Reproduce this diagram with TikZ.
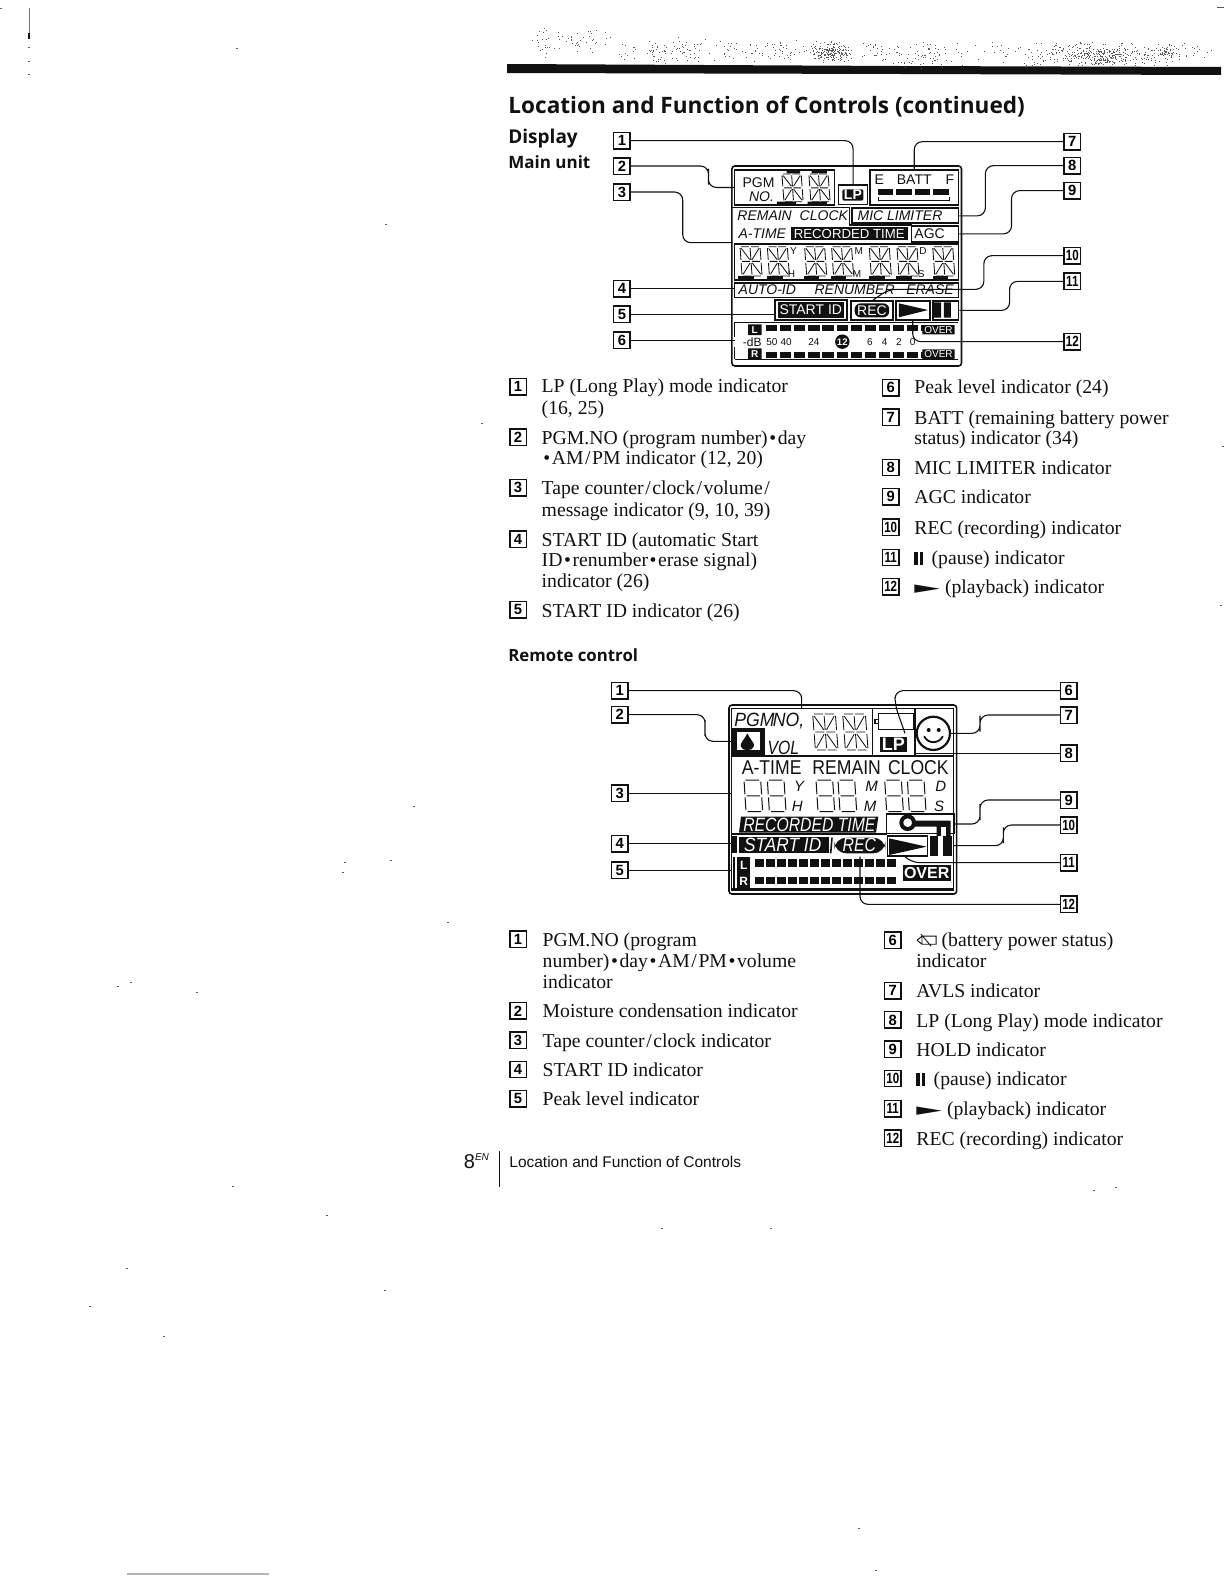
\documentclass[tikz,border=0pt]{standalone}
\usepackage{fontspec}
\usepackage{graphicx}
\setmainfont{Liberation Serif}
\setsansfont{Liberation Sans}
\newfontfamily\headfont{Open Sans}
\newfontfamily\symfont{DejaVu Sans}
\definecolor{ink}{HTML}{111111}
\newcounter{lnno}
\newcommand{\tl}[3]{\stepcounter{lnno}\node[itemtxt] (ln\thelnno) at (#1,{#2+1}) {#3};}
\newcommand{\nb}[4]{\node[numbox] (#1) at (#2,#3) {#4};}
\newcommand{\dd}[1]{\scalebox{.78}[1]{#1}}
\newcommand{\nar}[1]{\scalebox{.82}[1]{#1}}
\newcommand{\bu}{\kern.8pt•\kern.8pt}
\newcommand{\sla}{\kern.8pt/\kern.8pt}
\newcommand{\pausesym}{\rule{1.6pt}{6.4pt}\kern1pt\rule{1.6pt}{6.4pt}\kern2pt}
\newcommand{\playsym}{\rule{0pt}{6pt}\scalebox{1.7}[.85]{\symfont ►}}
\newcommand{\starseg}[4]{\begin{scope}[shift={(#1,#2)},xscale=#3,yscale=#4,xslant=-0.12]
\draw[seg] (.06,0)--(.46,0) (.54,0)--(.94,0) (0,.05)--(0,.45) (1,.05)--(1,.45) (.5,.05)--(.5,.45)
(.06,.06)--(.44,.44) (.94,.06)--(.56,.44) (.06,.5)--(.46,.5) (.54,.5)--(.94,.5)
(0,.55)--(0,.95) (1,.55)--(1,.95) (.5,.55)--(.5,.95) (.44,.56)--(.06,.94) (.56,.56)--(.94,.94)
(.06,1)--(.46,1) (.54,1)--(.94,1);
\end{scope}}
\newcommand{\sevseg}[4]{\begin{scope}[shift={(#1,#2)},xscale=#3,yscale=#4,xslant=-0.12]
\draw[seg,line width=.5pt] (.1,0)--(.9,0) (1,.05)--(1,.45) (0,.05)--(0,.45) (.1,.5)--(.9,.5) (0,.55)--(0,.95) (1,.55)--(1,.95) (.1,1)--(.9,1);
\end{scope}}
\tikzset{
 numbox/.style={draw=ink,line width=.7pt,minimum width=8.2pt,minimum height=8.2pt,inner sep=0pt,fill=white,text=black,font=\fontsize{7.4}{8}\selectfont\sffamily\bfseries},
 itemtxt/.style={anchor=base west,inner sep=0pt,text=ink,font=\fontsize{9.85}{10}\selectfont},
 leader/.style={draw=ink,line width=.55pt,rounded corners=4pt},
 seg/.style={draw=ink,line width=.42pt},
 frame/.style={draw=ink,line width=.6pt},
 lcdit/.style={inner sep=0pt,text=ink,font=\fontsize{7}{8}\selectfont\sffamily\itshape},
 lcdup/.style={inner sep=0pt,text=ink,font=\fontsize{7}{8}\selectfont\sffamily},
 lcdwhite/.style={inner sep=0pt,text=white,font=\fontsize{7}{8}\selectfont\sffamily},
 lcdbig/.style={inner sep=0pt,text=ink,font=\fontsize{10}{10}\selectfont\sffamily},
 lcdbigit/.style={inner sep=0pt,text=ink,font=\fontsize{9.6}{10}\selectfont\sffamily\itshape},
 lcdbigw/.style={inner sep=0pt,text=white,font=\fontsize{9.6}{10}\selectfont\sffamily\itshape},
 tiny/.style={inner sep=0pt,text=ink,font=\fontsize{5}{6}\selectfont\sffamily},
 heading/.style={anchor=base west,inner sep=0pt,text=ink,font=\headfont\bfseries},
}
\begin{document}
\begin{tikzpicture}[x=0.5pt,y=-0.5pt]
\useasboundingbox[fill=white] (0,0) rectangle (1224,1584);
% ---- header bar and screen noise
\fill[ink] (507,64) -- (900,66) -- (1221,67) -- (1221,75) -- (900,74) -- (507,73) -- cycle;
\pgfmathsetseed{4711}
\foreach \cx/\sx/\cy/\sy/\n in {546/14/44/10/25,584/16/40/8/35,625/6/50/8/12,655/9/50/9/30,686/14/50/9/45,
 742/25/50/8/40,790/16/50/9/35,832/12/52/7/200,880/14/52/8/30,928/20/55/9/70,1000/25/52/8/25,
 1060/22/55/8/90,1100/20/54/8/240,1145/22/55/8/70,1167/7/52/7/50,1195/10/52/7/15}{
 \foreach \k in {1,...,\n}{
  \pgfmathsetmacro{\px}{\cx+\sx*(rand+rand)*1.0}
  \pgfmathsetmacro{\py}{\cy+\sy*(rand+rand)*0.8}
  \fill[black!65] (\px,\py) rectangle ++(.9,.9);
 }
}
% ---- page marks
\draw[black!55,line width=.7pt] (29.5,8) -- (29.5,33);
\draw[ink,line width=.8pt] (29,33) -- (29,39);
\fill[black!60] (0,8) rectangle ++(2,1);
\draw[black!30,line width=.6pt] (127,1574) -- (269,1574);
\fill[ink!70] (1217,7) rectangle ++(7,1);
\foreach \sx/\sy in {28/47,28/61,28/74,236/48,385/224,481/423,344/862,390/860,447/922,117/986,130/982,196/992,232/1186,
 326/1215,126/1268,384/1290,89/1306,163/1336,661/1228,770/1228,858/1528,875/1570,1093/1190,1115/1187,1222/446,1220/605,413/806,342/872}{
 \fill[ink!70] (\sx,\sy) rectangle ++(2,1.4);
}
% ---- text, in coordinates of the shrunk view
\begin{scope}[x=0.50495pt,y=-0.50495pt]
\node[heading,font=\headfont\bfseries\fontsize{11.3}{13}\selectfont] (title) at (503,112) {Location and Function of Controls (continued)};
\node[heading,font=\headfont\bfseries\fontsize{9.5}{12}\selectfont] (hdisp) at (503,142) {Display};
\node[heading,font=\headfont\bfseries\fontsize{8.5}{12}\selectfont] (hmain) at (503,167) {Main unit};
\node[heading,font=\headfont\bfseries\fontsize{8.4}{12}\selectfont] (hremo) at (503,655) {Remote control};
% main unit lists
\nb{la1}{513}{383}{1} \tl{536}{388}{LP (Long Play) mode indicator} \tl{536}{409}{(16, 25)}
\nb{la2}{513}{433}{2} \tl{536}{439}{PGM.NO (program number)\bu day} \tl{536}{459}{\bu AM\sla PM indicator (12, 20)}
\nb{la3}{513}{483}{3} \tl{536}{489}{Tape counter\sla clock\sla volume\sla} \tl{536}{510}{message indicator (9, 10, 39)}
\nb{la4}{513}{534}{4} \tl{536}{540}{START ID (automatic Start} \tl{536}{560}{ID\bu renumber\bu erase signal)} \tl{536}{581}{indicator (26)}
\nb{la5}{513}{604}{5} \tl{536}{610}{START ID indicator (26)}
\nb{lb6}{882}{384}{6} \tl{905}{389}{Peak level indicator (24)}
\nb{lb7}{882}{413}{7} \tl{905}{419}{BATT (remaining battery power} \tl{905}{439}{status) indicator (34)}
\nb{lb8}{882}{463}{8} \tl{905}{469}{MIC LIMITER indicator}
\nb{lb9}{882}{492}{9} \tl{905}{498}{AGC indicator}
\nb{lb10}{882}{522}{\dd{10}} \tl{905}{528}{REC (recording) indicator}
\nb{lb11}{882}{552}{\dd{11}} \tl{905}{558}{\pausesym\ (pause) indicator}
\nb{lb12}{882}{581}{\dd{12}} \tl{905}{587}{\playsym\ (playback) indicator}
% remote lists
\nb{ra1}{513}{930}{1} \tl{537}{936}{PGM.NO (program} \tl{537}{957}{number)\bu day\bu AM\sla PM\bu volume} \tl{537}{978}{indicator}
\nb{ra2}{513}{1001}{2} \tl{537}{1007}{Moisture condensation indicator}
\nb{ra3}{513}{1030}{3} \tl{537}{1036}{Tape counter\sla clock indicator}
\nb{ra4}{513}{1059}{4} \tl{537}{1065}{START ID indicator}
\nb{ra5}{513}{1088}{5} \tl{537}{1094}{Peak level indicator}
\nb{rb6}{884}{931}{6} \tl{932}{936}{(battery power status)} \tl{907}{957}{indicator}
\draw[ink,line width=.45pt] (913,927) rectangle (927,935) (908,931) -- (913,927) (908,931) -- (913,935) (912,925) -- (922,937);
\nb{rb7}{884}{981}{7} \tl{907}{987}{AVLS indicator}
\nb{rb8}{884}{1010}{8} \tl{907}{1016}{LP (Long Play) mode indicator}
\nb{rb9}{884}{1039}{9} \tl{907}{1045}{HOLD indicator}
\nb{rb10}{884}{1068}{\dd{10}} \tl{907}{1074}{\pausesym\ (pause) indicator}
\nb{rb11}{884}{1098}{\dd{11}} \tl{907}{1104}{\playsym\ (playback) indicator}
\nb{rb12}{884}{1127}{\dd{12}} \tl{907}{1133}{REC (recording) indicator}
% footer
\node[itemtxt,font=\fontsize{10}{12}\selectfont\sffamily] (pg) at (459,1157) {8\raisebox{4pt}{\fontsize{5}{6}\selectfont\itshape EN}};
\coordinate (fbt) at (495,1140); \coordinate (fbb) at (495,1175);
\draw[ink,line width=.5pt] (fbt) -- (fbb);
\node[itemtxt,font=\fontsize{7.75}{10}\selectfont\sffamily] (ft) at (504,1156) {Location and Function of Controls};
\end{scope}
% ---- main unit LCD, in zoom coordinates
\begin{scope}[shift={(500,90)},x=0.1923pt,y=-0.16667pt]
\node[numbox] (m1) at (317,152) {1};
\node[numbox] (m2) at (317,228) {2};
\node[numbox] (m3) at (317,306) {3};
\node[numbox] (m4) at (317,596) {4};
\node[numbox] (m5) at (317,673) {5};
\node[numbox] (m6) at (317,751) {6};
\node[numbox] (m7) at (1488,155) {7};
\node[numbox] (m8) at (1488,227) {8};
\node[numbox] (m9) at (1488,302) {9};
\node[numbox] (m10) at (1488,497) {\dd{10}};
\node[numbox] (m11) at (1488,574) {\dd{11}};
\node[numbox] (m12) at (1488,755) {\dd{12}};
\draw[frame,line width=.8pt,rounded corners=1.5pt] (603,228) rectangle (1200,828);
% named boxes
\node[frame,minimum width=50pt,minimum height=17.5pt,inner sep=0pt] (pgmb) at (740,292.5) {};
\node[frame,minimum width=14.4pt,minimum height=9.7pt,inner sep=0pt] (lpb) at (918,314) {};
\node[frame,line width=.9pt,minimum width=44.2pt,minimum height=17.5pt,inner sep=0pt] (batb) at (1077,292.5) {};
\node[frame,line width=.9pt,minimum width=53.3pt,minimum height=7.5pt,inner sep=0pt] (micb) at (1053.5,377.5) {};
\node[frame,line width=.9pt,minimum width=23.5pt,minimum height=7.8pt,inner sep=0pt] (agcb) at (1131,431.5) {};
\node[frame,line width=.8pt,minimum width=112pt,minimum height=18pt,inner sep=0pt] (digb) at (901,516) {};
\node[frame,line width=.8pt,minimum width=112pt,minimum height=7.3pt,inner sep=0pt] (autb) at (901,600) {};
\node[frame,line width=.9pt,minimum width=36.2pt,minimum height=10pt,inner sep=0pt] (stab) at (809,660) {};
\node[frame,line width=.9pt,minimum width=21.2pt,minimum height=9.7pt,inner sep=0pt] (recb) at (967,661) {};
\node[frame,line width=.9pt,minimum width=16.9pt,minimum height=9.7pt,inner sep=0pt] (plab) at (1074,661) {};
\node[frame,line width=.9pt,minimum width=12.9pt,minimum height=9.7pt,inner sep=0pt] (paub) at (1158.5,661) {};
\coordinate (tl3) at (605,458); \coordinate (met6) at (610,752);
\draw[frame] (603,352) -- (908,352) -- (908,405) -- (1070,405) -- (1070,460) -- (610,460);
\draw[frame] (610,697) -- (1192,697) (610,808) -- (1192,808) (610,697) -- (610,740) (610,770) -- (610,808);
% fills
\fill[ink,rounded corners=1pt] (890,298) rectangle (945,332);
\node[lcdwhite,font=\fontsize{7}{8}\selectfont\sffamily\bfseries] (lptx) at (917.5,315) {LP};
\foreach \a/\b in {983/1022,1030/1070,1078/1118,1125/1167}{\fill[ink] (\a,297) rectangle (\b,315);}
\draw[ink,line width=.35pt] (983,322) -- (983,330) -- (1168,330) -- (1168,322);
\fill[ink] (757,412) rectangle (1060,450);
\fill[ink] (722,637) rectangle (895,683);
\fill[ink,rounded corners=3pt] (922,640) rectangle (1012,682);
\fill[ink] (1037,640) -- (1113,660) -- (1037,682) -- cycle;
\fill[ink] (1129,637) rectangle (1147,683) (1154,637) rectangle (1172,683);
\fill[ink] (645,703) rectangle (680,735) (645,775) rectangle (680,807);
\fill[ink] (1098,705) rectangle (1182,733) (1098,778) rectangle (1182,807);
\foreach \i in {0,...,11}{
 \fill[ink] ({692+\i*36.6},705) rectangle ({721+\i*36.6},723);
 \fill[ink] ({692+\i*36.6},787) rectangle ({721+\i*36.6},805);
}
\fill[ink] (745,243) rectangle (780,250) (810,243) rectangle (850,250) (720,335) rectangle (770,343) (800,335) rectangle (850,343);
\foreach \x in {620,695,790,860,960,1030,1125}{\fill[ink] (\x,558) rectangle ({\x+40},568);}
% texts
\node[lcdup] (tpgm) at (672,277) {PGM};
\node[lcdit] (tno) at (680,320) {NO.};
\node[lcdup] (te) at (986,270) {E};
\node[lcdup] (tbatt) at (1077,270) {BATT};
\node[lcdup] (tf) at (1170,270) {F};
\node[lcdit] (trem) at (688,378) {REMAIN};
\node[lcdit] (tclk) at (842,378) {CLOCK};
\node[lcdit] (tmic) at (1040,378) {MIC LIMITER};
\node[lcdit] (tat) at (682,432) {A-TIME};
\node[lcdwhite,font=\fontsize{6.6}{8}\selectfont\sffamily] (trec) at (908,431) {RECORDED TIME};
\node[lcdup] (tagc) at (1117,432) {AGC};
\node[lcdit] (taut) at (695,600) {AUTO-ID};
\node[lcdit] (tren) at (922,600) {RENUMBER};
\node[lcdit] (ter) at (1118,600) {ERASE};
\node[lcdwhite] (tsta) at (808,660) {START ID};
\node[lcdwhite] (trc) at (967,661) {REC};
\node[tiny,text=white,font=\fontsize{5}{6}\selectfont\sffamily\bfseries] (tl) at (662,719) {L};
\node[tiny,text=white,font=\fontsize{5}{6}\selectfont\sffamily\bfseries] (tr) at (662,791) {R};
\node[tiny,text=white] (ov1) at (1140,719) {OVER};
\node[tiny,text=white] (ov2) at (1140,792) {OVER};
\node[tiny,font=\fontsize{6}{7}\selectfont\sffamily] (tdb) at (656,756) {-dB};
\node[tiny] (d50) at (707,755) {50};
\node[tiny] (d40) at (744,755) {40};
\node[tiny] (d24) at (816,755) {24};
\node[circle,fill=ink,minimum size=7.2pt,inner sep=0pt,text=white,font=\fontsize{4.8}{6}\selectfont\sffamily\bfseries] (d12) at (890,755) {12};
\node[tiny] (d6) at (962,755) {6};
\node[tiny] (d4) at (1000,755) {4};
\node[tiny] (d2) at (1037,755) {2};
\node[tiny] (d0) at (1073,755) {0};
\node[tiny] (sy) at (763,483) {Y};
\node[tiny] (sh) at (758,551) {H};
\node[tiny] (sm) at (933,483) {M};
\node[tiny] (sm2) at (928,551) {M};
\node[tiny] (sd) at (1100,483) {D};
\node[tiny] (ss) at (1095,551) {S};
\starseg{733}{252}{50}{83}
\starseg{803}{252}{50}{83}
\foreach \x in {624,695,792,862,960,1032,1125}{\starseg{\x}{470}{52}{88}}
% connectors
\coordinate (b2) at (542,260);
\coordinate (b3) at (475,380);
\coordinate (b8) at (1262,302);
\coordinate (b9) at (1330,366);
\coordinate (b10) at (1258,548);
\coordinate (b11) at (1325,617);
\coordinate (end10) at (1010,598);
\coordinate (end10b) at (968,632);
\coordinate (b12) at (1073,690);
\draw[leader] (m1.east) -| (lpb.north);
\draw[leader] (m2.east) -| (b2) |- (pgmb.west);
\draw[leader] (m3.east) -| (b3) |- (tl3);
\draw[leader] (m4.east) -- (m4.east -| autb.west);
\draw[leader] (m5.east) -- (m5.east -| stab.west);
\draw[leader] (m6.east) -- (m6.east -| met6);
\draw[leader] (m7.west) -| (batb.north);
\draw[leader] (m8.west) -| (b8) |- (micb.east);
\draw[leader] (m9.west) -| (b9) |- (agcb.east);
\draw[leader] (m10.west) -| (b10) |- (end10) -- (end10b);
\draw[leader] (m11.west) -| (b11) |- (paub.east);
\draw[leader] (m12.west) -| (b12);
\end{scope}
% ---- remote LCD, in zoom coordinates
\begin{scope}[shift={(590,670)},x=0.16667pt,y=-0.16667pt]
\node[numbox] (r1) at (89,62) {1};
\node[numbox] (r2) at (89,134) {2};
\node[numbox] (r3) at (89,370) {3};
\node[numbox] (r4) at (89,521) {4};
\node[numbox] (r5) at (89,601) {5};
\node[numbox] (r6) at (1436,62) {6};
\node[numbox] (r7) at (1436,135) {7};
\node[numbox] (r8) at (1436,250) {8};
\node[numbox] (r9) at (1436,390) {9};
\node[numbox] (r10) at (1436,465) {\dd{10}};
\node[numbox] (r11) at (1436,578) {\dd{11}};
\node[numbox] (r12) at (1436,703) {\dd{12}};
\draw[frame,line width=.8pt,rounded corners=1.5pt] (417,105) rectangle (1100,672);
\draw[frame,line width=.8pt] (425,115) rectangle (1090,660);
\draw[frame,line width=.8pt] (425,258) -- (1090,258) (425,492) -- (890,492);
\draw[frame,line width=.8pt] (848,115) -- (848,255) (975,115) -- (975,255);
\coordinate (top1) at (635,115);
\coordinate (sl6) at (915,105);
\coordinate (sl6e) at (945,190);
\coordinate (w3) at (425,372);
\coordinate (w4) at (425,522);
\coordinate (w5) at (425,600);
\coordinate (b22) at (345,174);
\coordinate (b27) at (1170,161);
\coordinate (b29) at (1170,426);
\coordinate (b210) at (1240,496);
\coordinate (e8) at (975,250);
\coordinate (e9) at (1092,462);
\coordinate (e10) at (1090,527);
\coordinate (e11a) at (965,578);
\coordinate (e11b) at (945,560);
\coordinate (e12b) at (810,560);
% moisture
\node[draw=ink,line width=.9pt,minimum width=15.7pt,minimum height=12.8pt,inner sep=0pt] (moib) at (475,214) {};
\draw[ink,line width=1.5pt] (435,182) rectangle (515,245);
\fill[ink] (472,190) .. controls (462,210) and (450,220) .. (452,228) .. controls (454,245) and (490,245) .. (492,228) .. controls (494,220) and (482,210) .. (472,190) -- cycle;
\node[lcdbigit] (tp) at (538,152) {\scalebox{.92}[1]{PGM\kern-1pt NO,}};
\node[lcdbigit] (tv) at (580,233) {\nar{VOL}};
\starseg{668}{132}{68}{108}
\starseg{758}{132}{68}{108}
% battery / LP / smiley
\draw[frame] (865,130) rectangle (970,178) (855,148) rectangle (865,160);
\fill[ink] (870,200) rectangle (950,245);
\node[lcdwhite,font=\fontsize{9}{10}\selectfont\sffamily\bfseries] (tlp2) at (910,223) {LP};
\node[circle,draw=ink,line width=1.1pt,minimum size=16.6pt,inner sep=0pt] (smile) at (1030,190) {};
\fill[ink] (1016,180) circle (6) (1046,180) circle (6);
\draw[ink,line width=.9pt,line cap=round] (1003,200) .. controls (1015,222) and (1045,222) .. (1058,200);
% middle
\node[lcdbig] (t2a) at (545,292) {\scalebox{.88}[1]{A-TIME}};
\node[lcdbig] (t2r) at (770,292) {\scalebox{.88}[1]{REMAIN}};
\node[lcdbig] (t2c) at (985,292) {\scalebox{.88}[1]{CLOCK}};
\foreach \x in {462,532,678,744,884,952}{\sevseg{\x}{330}{50}{95}}
\node[lcdbigit,font=\fontsize{7.5}{8}\selectfont\sffamily\itshape] (l2y) at (627,350) {Y};
\node[lcdbigit,font=\fontsize{7.5}{8}\selectfont\sffamily\itshape] (l2h) at (622,408) {H};
\node[lcdbigit,font=\fontsize{7.5}{8}\selectfont\sffamily\itshape] (l2m) at (845,350) {M};
\node[lcdbigit,font=\fontsize{7.5}{8}\selectfont\sffamily\itshape] (l2n) at (840,408) {M};
\node[lcdbigit,font=\fontsize{7.5}{8}\selectfont\sffamily\itshape] (l2d) at (1052,350) {D};
\node[lcdbigit,font=\fontsize{7.5}{8}\selectfont\sffamily\itshape] (l2s) at (1047,408) {S};
\fill[ink] (453,440) -- (865,440) -- (858,488) -- (447,488) -- cycle;
\node[lcdbigw] (t2rt) at (658,465) {\nar{RECORDED TIME}};
% hold key
\node[draw=ink,line width=.7pt,minimum width=33.6pt,minimum height=9.7pt,inner sep=0pt] (holdb) at (991,461) {};
\draw[ink,line width=2pt] (953,458) circle (19);
\fill[ink] (972,452) rectangle (1082,470) (1040,470) rectangle (1082,500);
\fill[white] (1052,472) rectangle (1068,500);
% start row
\fill[ink] (447,500) rectangle (716,548);
\node[lcdbigw] (t2st) at (578,524) {\scalebox{.9}[1]{START ID}};
\fill[ink] (425,498) rectangle (440,550);
\fill[ink,rounded corners=6pt] (733,503) rectangle (886,550);
\node[lcdbigw] (t2rc) at (808,526) {\nar{REC}};
\draw[ink,line width=.8pt] (726,503) -- (722,550);
\node[draw=ink,line width=.7pt,minimum width=20pt,minimum height=10pt,inner sep=0pt] (pl2) at (952,528) {};
\fill[ink] (897,505) -- (1010,530) -- (897,555) -- cycle;
\fill[ink] (1020,498) rectangle (1085,558);
\fill[white] (1045,498) rectangle (1060,558);
% meter
\fill[ink] (430,560) rectangle (480,655);
\fill[white] (436,560) rectangle (440,655);
\fill[ink] (425,655) rectangle (1090,660);
\fill[white] (480,606) rectangle (930,614);
\node[tiny,text=white,font=\fontsize{6}{6}\selectfont\sffamily\bfseries] (t2l) at (461,585) {L};
\node[tiny,text=white,font=\fontsize{6}{6}\selectfont\sffamily\bfseries] (t2r2) at (461,634) {R};
\foreach \i in {0,...,12}{
 \fill[ink] ({495+\i*33},568) rectangle ({521+\i*33},590);
 \fill[ink] ({495+\i*33},620) rectangle ({521+\i*33},642);
}
\fill[ink] (938,585) rectangle (1082,632);
\node[lcdwhite,font=\fontsize{8}{10}\selectfont\sffamily\bfseries] (tov) at (1010,609) {OVER};
% connectors
\draw[leader] (r1.east) -| (top1);
\draw[leader] (r2.east) -| (b22) |- (moib.west);
\draw[leader] (r3.east) -- (r3.east -| w3);
\draw[leader] (r4.east) -- (r4.east -| w4);
\draw[leader] (r5.east) -- (r5.east -| w5);
\draw[leader] (r6.west) -| (sl6) -- (sl6e);
\draw[leader] (r7.west) -| (b27) |- (smile.east);
\draw[leader] (r8.west) -- (r8.west -| e8);
\draw[leader] (r9.west) -| (b29) |- (e9);
\draw[leader] (r10.west) -| (b210) |- (e10);
\draw[leader] (r11.west) -- (r11.west -| e11a) -- (e11b);
\draw[leader] (r12.west) -| (e12b);
\end{scope}
\end{tikzpicture}
\end{document}
